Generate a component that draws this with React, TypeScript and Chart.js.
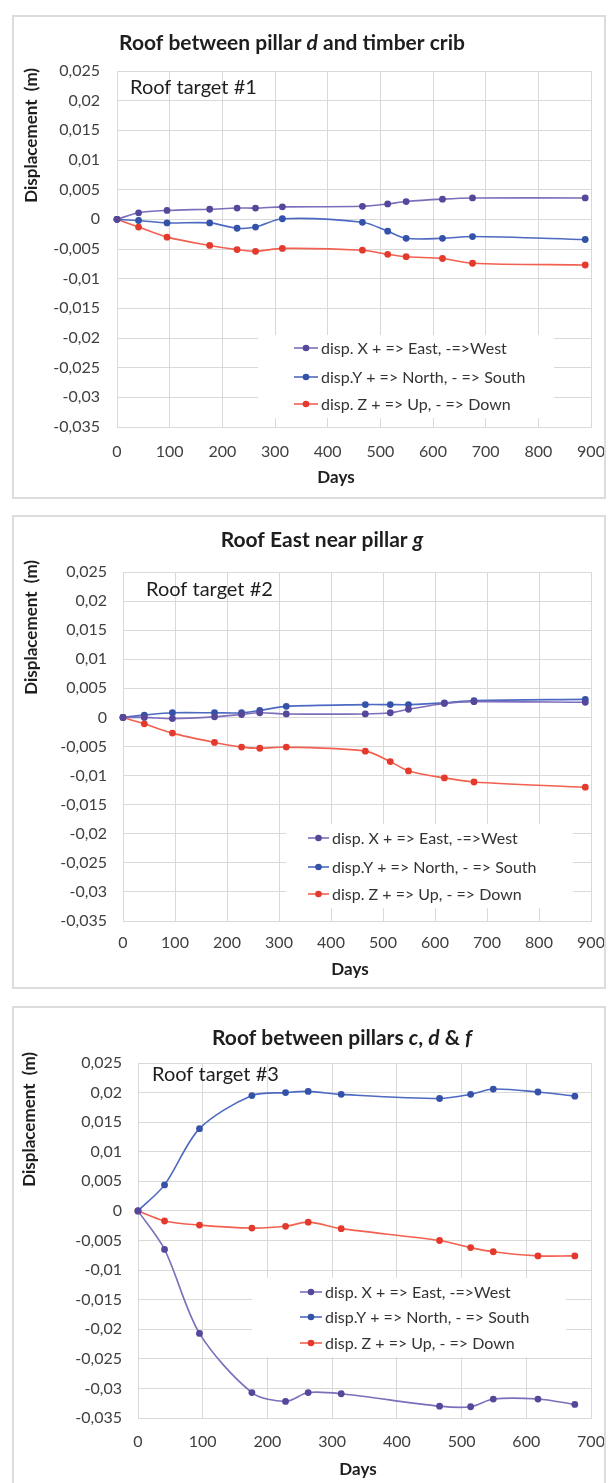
import React, { useEffect, useRef } from "react";
import { Chart, registerables } from "chart.js";

Chart.register(...registerables);

const FONT = 'Lato, "Open Sans", "DejaVu Sans", sans-serif';

// ---------- data ----------
const days = [0, 41, 95, 176, 228, 263, 314, 466, 514, 549, 618, 675, 889];
const daysShort = [0, 41, 95, 176, 228, 263, 314, 466, 514, 549, 618, 675];

const xTicks900 = [0, 100, 200, 300, 400, 500, 600, 700, 800, 900];
const xTickLabels900 = ["0", "100", "200", "300", "400", "500", "600", "700", "800", "900"];
const xTicks700 = [0, 100, 200, 300, 400, 500, 600, 700];
const xTickLabels700 = ["0", "100", "200", "300", "400", "500", "600", "700"];

const yTicks = [-0.035, -0.03, -0.025, -0.02, -0.015, -0.01, -0.005, 0, 0.005, 0.01, 0.015, 0.02, 0.025];
const yTickLabels = ["-0,035", "-0,03", "-0,025", "-0,02", "-0,015", "-0,01", "-0,005", "0", "0,005", "0,01", "0,015", "0,02", "0,025"];

const seriesLabels = [
  "disp. X + => East, -=>West",
  "disp.Y + => North, - => South",
  "disp. Z + => Up, - => Down",
];

// Target #1
const x1 = [0, 0.0011, 0.0015, 0.0017, 0.0019, 0.0019, 0.0021, 0.0022, 0.0026, 0.003, 0.0034, 0.0036, 0.0036];
const y1 = [0, -0.0002, -0.0006, -0.0006, -0.0015, -0.0013, 0.0001, -0.0005, -0.002, -0.0032, -0.0032, -0.0029, -0.0034];
const z1 = [0, -0.0013, -0.003, -0.0044, -0.0051, -0.0054, -0.0049, -0.0052, -0.0059, -0.0063, -0.0066, -0.0074, -0.0077];

// Target #2
const x2 = [0, 0, -0.0002, 0.0001, 0.0005, 0.0008, 0.0006, 0.0006, 0.0008, 0.0014, 0.0024, 0.0027, 0.0026];
const y2 = [0, 0.0004, 0.0008, 0.0008, 0.0008, 0.0012, 0.0019, 0.0022, 0.0022, 0.0022, 0.0025, 0.0029, 0.0031];
const z2 = [0, -0.0011, -0.0027, -0.0043, -0.0051, -0.0053, -0.0051, -0.0058, -0.0076, -0.0092, -0.0104, -0.0111, -0.012];

// Target #3
const x3 = [0, -0.0065, -0.0207, -0.0307, -0.0322, -0.0307, -0.0309, -0.033, -0.0331, -0.0318, -0.0318, -0.0327];
const y3 = [0, 0.0044, 0.0139, 0.0195, 0.02, 0.0202, 0.0197, 0.019, 0.0197, 0.0206, 0.0201, 0.0194];
const z3 = [0, -0.0017, -0.0024, -0.0029, -0.0026, -0.0019, -0.003, -0.005, -0.0062, -0.0069, -0.0076, -0.0076];

// ---------- styles ----------
const LINE_COLORS = ["#7d6dbb", "#4d69c2", "#f2604f"];
const POINT_COLORS = ["#56479b", "#3452a8", "#e43a2d"];
const GRID = "#d9d9d9";
const TICK_COLOR = "#404040";
const TEXT_DARK = "#1e1e1e";

type Seg = { t: string; i?: boolean };

type PanelCfg = {
  left: number;
  top: number;
  width: number;
  height: number;
  area: { left: number; top: number; right: number; bottom: number };
  xTicks: number[];
  xTickLabels: string[];
  xMax: number;
  xs: number[];
  series: number[][];
  title: Seg[];
  titlePos: [number, number];
  yTitlePos: [number, number];
  target: string;
  targetPos: [number, number];
  daysPos: [number, number];
  xTickPad: number;
  yTickPad: number;
  legend: { marker: number; text: number; rows: number[]; box: [number, number, number, number] };
};

const panels: PanelCfg[] = [
  {
    left: 12, top: 15, width: 594, height: 484,
    area: { left: 103, top: 54, right: 577, bottom: 410 },
    xTicks: xTicks900, xTickLabels: xTickLabels900, xMax: 900,
    xs: days, series: [x1, y1, z1],
    title: [{ t: "Roof between pillar " }, { t: "d", i: true }, { t: " and timber crib" }],
    titlePos: [278, 26],
    yTitlePos: [18, 51],
    target: "Roof target #1",
    targetPos: [116, 71],
    daysPos: [322, 461],
    xTickPad: 15, yTickPad: 17,
    legend: { marker: 280, text: 307, rows: [331, 360, 387], box: [244, 318, 540, 401] },
  },
  {
    left: 12, top: 515, width: 594, height: 474,
    area: { left: 109, top: 55, right: 577, bottom: 404 },
    xTicks: xTicks900, xTickLabels: xTickLabels900, xMax: 900,
    xs: days, series: [x2, y2, z2],
    title: [{ t: "Roof East near pillar " }, { t: "g", i: true }],
    titlePos: [308, 23],
    yTitlePos: [18, 43],
    target: "Roof target #2",
    targetPos: [132, 73],
    daysPos: [336, 453],
    xTickPad: 12, yTickPad: 16,
    legend: { marker: 294, text: 318, rows: [321, 350, 377], box: [272, 307, 559, 391] },
  },
  {
    left: 12, top: 1006, width: 594, height: 482,
    area: { left: 124, top: 55, right: 577, bottom: 410 },
    xTicks: xTicks700, xTickLabels: xTickLabels700, xMax: 700,
    xs: daysShort, series: [x3, y3, z3],
    title: [{ t: "Roof between pillars " }, { t: "c", i: true }, { t: ", " }, { t: "d", i: true }, { t: " & " }, { t: "f", i: true }],
    titlePos: [328, 30],
    yTitlePos: [16, 44],
    target: "Roof target #3",
    targetPos: [138, 67],
    daysPos: [344, 462],
    xTickPad: 14, yTickPad: 16,
    legend: { marker: 286, text: 311, rows: [284, 309, 335], box: [238, 270, 552, 349] },
  },
];

function makeDecor(cfg: PanelCfg) {
  return {
    id: "decor",
    beforeDatasetsDraw(chart: any) {
      const ctx = chart.ctx as CanvasRenderingContext2D;
      const b = cfg.legend.box;
      ctx.save();
      ctx.fillStyle = "#ffffff";
      ctx.fillRect(b[0], b[1], b[2] - b[0], b[3] - b[1]);
      ctx.restore();
    },
    afterDraw(chart: any) {
      const ctx = chart.ctx as CanvasRenderingContext2D;
      ctx.save();
      // chart title with italic pieces
      const fontOf = (it?: boolean) => `${it ? "italic " : ""}bold 21px ${FONT}`;
      let total = 0;
      const widths = cfg.title.map((s) => {
        ctx.font = fontOf(s.i);
        const w = ctx.measureText(s.t).width;
        total += w;
        return w;
      });
      let x = cfg.titlePos[0] - total / 2;
      ctx.fillStyle = TEXT_DARK;
      ctx.textBaseline = "middle";
      ctx.textAlign = "left";
      cfg.title.forEach((s, k) => {
        ctx.font = fontOf(s.i);
        ctx.fillText(s.t, x, cfg.titlePos[1]);
        x += widths[k];
      });

      // y axis title
      ctx.save();
      ctx.translate(cfg.yTitlePos[0], cfg.yTitlePos[1]);
      ctx.rotate(-Math.PI / 2);
      ctx.font = `bold 17px ${FONT}`;
      ctx.textAlign = "right";
      ctx.textBaseline = "middle";
      ctx.fillText("Displacement  (m)", 0, 0);
      ctx.restore();

      // x axis title
      ctx.font = `bold 17px ${FONT}`;
      ctx.textAlign = "center";
      ctx.fillText("Days", cfg.daysPos[0], cfg.daysPos[1]);

      // target label
      ctx.font = `20px ${FONT}`;
      ctx.textAlign = "left";
      ctx.fillText(cfg.target, cfg.targetPos[0], cfg.targetPos[1]);

      // legend
      const ds = chart.data.datasets;
      ctx.font = `16px ${FONT}`;
      ds.forEach((d: any, k: number) => {
        const yy = cfg.legend.rows[k];
        const m0 = cfg.legend.marker;
        const m1 = cfg.legend.text - 3;
        ctx.strokeStyle = d.borderColor;
        ctx.lineWidth = 1.6;
        ctx.beginPath();
        ctx.moveTo(m0, yy);
        ctx.lineTo(m1, yy);
        ctx.stroke();
        ctx.fillStyle = d.pointBackgroundColor;
        ctx.beginPath();
        ctx.arc((m0 + m1) / 2, yy, 3.3, 0, Math.PI * 2);
        ctx.fill();
        ctx.fillStyle = "#333333";
        ctx.textBaseline = "middle";
        ctx.fillText(d.label, cfg.legend.text, yy + 1);
      });
      ctx.restore();
    },
  };
}

function Panel({ cfg }: { cfg: PanelCfg }) {
  const ref = useRef<HTMLCanvasElement>(null);
  const cw = cfg.width - 4;
  const ch = cfg.height - 4;

  useEffect(() => {
    if (!ref.current) return;
    const zeroPad = (s: any) => {
      s.paddingLeft = 0;
      s.paddingRight = 0;
      s.paddingTop = 0;
      s.paddingBottom = 0;
    };
    const chart = new Chart(ref.current, {
      type: "line",
      data: {
        datasets: cfg.series.map((vals, k) => ({
          label: seriesLabels[k],
          data: vals.map((v, i) => ({ x: cfg.xs[i], y: v })),
          borderColor: LINE_COLORS[k],
          backgroundColor: LINE_COLORS[k],
          pointBackgroundColor: POINT_COLORS[k],
          pointBorderColor: POINT_COLORS[k],
          pointRadius: 3.4,
          pointBorderWidth: 0,
          borderWidth: 1.6,
          tension: 0.3,
          fill: false,
          clip: false as any,
        })),
      },
      options: {
        responsive: false,
        animation: false,
        devicePixelRatio: 1,
        events: [],
        layout: { padding: { top: cfg.area.top, right: cw - cfg.area.right, left: 0, bottom: 0 } },
        plugins: {
          legend: { display: false },
          title: { display: false },
          tooltip: { enabled: false },
        },
        scales: {
          x: {
            type: "linear",
            min: 0,
            max: cfg.xMax,
            afterBuildTicks: (s: any) => {
              s.ticks = cfg.xTicks.map((v) => ({ value: v }));
            },
            afterFit: (s: any) => {
              s.height = ch - cfg.area.bottom;
              zeroPad(s);
            },
            ticks: {
              autoSkip: false,
              maxRotation: 0,
              padding: cfg.xTickPad,
              color: TICK_COLOR,
              font: { family: FONT, size: 16 },
              callback: (_v: any, i: number) => cfg.xTickLabels[i],
            },
            grid: { color: GRID, drawTicks: false, lineWidth: 1 },
            border: { color: GRID },
          },
          y: {
            type: "linear",
            min: -0.035,
            max: 0.025,
            afterBuildTicks: (s: any) => {
              s.ticks = yTicks.map((v) => ({ value: v }));
            },
            afterFit: (s: any) => {
              s.width = cfg.area.left;
              zeroPad(s);
            },
            ticks: {
              autoSkip: false,
              padding: cfg.yTickPad,
              color: TICK_COLOR,
              font: { family: FONT, size: 16 },
              callback: (_v: any, i: number) => yTickLabels[i],
            },
            grid: { color: GRID, drawTicks: false, lineWidth: 1 },
            border: { color: GRID },
          },
        },
      },
      plugins: [makeDecor(cfg)],
    } as any);
    return () => chart.destroy();
  }, []);

  return (
    <div
      style={{
        position: "absolute",
        left: cfg.left,
        top: cfg.top,
        width: cfg.width,
        height: cfg.height,
        border: "2px solid #dcdcdc",
        boxSizing: "border-box",
        background: "#ffffff",
      }}
    >
      <canvas ref={ref} width={cw} height={ch} style={{ display: "block", width: cw, height: ch }} />
    </div>
  );
}

export default function App() {
  return (
    <div
      style={{
        position: "absolute",
        left: 0,
        top: 0,
        width: 608,
        height: 1483,
        overflow: "hidden",
        background: "#ffffff",
      }}
    >
      {panels.map((p, i) => (
        <Panel key={i} cfg={p} />
      ))}
    </div>
  );
}
